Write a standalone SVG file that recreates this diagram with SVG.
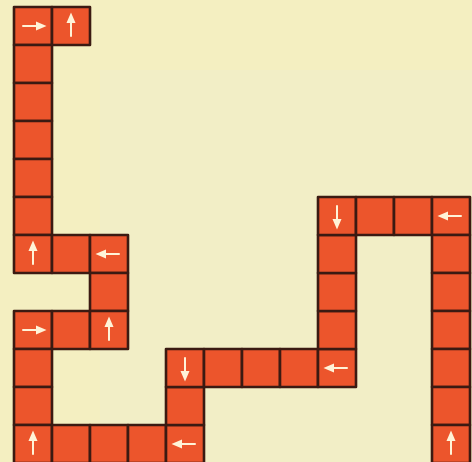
<svg xmlns="http://www.w3.org/2000/svg" xmlns:xlink="http://www.w3.org/1999/xlink" width="472" height="462" viewBox="0 0 472 462">
<style>
.cell{fill:#ec552c;stroke:#3b1a12;stroke-width:2.6;stroke-linejoin:round}
.arr{stroke:#fff3d8;stroke-width:2;fill:#fff3d8;stroke-linecap:round}
</style>
<defs>
<g id="up"><line class="arr" x1="0" y1="10" x2="0" y2="-5"/><path class="arr" stroke-width="1" d="M-3,-4 L3,-4 L0,-11 Z"/></g>
</defs>
<rect width="472" height="462" fill="#f4efc1"/>
<rect x="100" y="70" width="372" height="392" fill="#efeecd" opacity="0.4"/>
<g id="board">
<g id="c0-0"><rect class="cell" x="14" y="7" width="38" height="38"/><use href="#up" transform="translate(33,26) rotate(90)"/></g>
<g id="c1-0"><rect class="cell" x="52" y="7" width="38" height="38"/><use href="#up" transform="translate(71,26)"/></g>
<g id="c0-1"><rect class="cell" x="14" y="45" width="38" height="38"/></g>
<g id="c0-2"><rect class="cell" x="14" y="83" width="38" height="38"/></g>
<g id="c0-3"><rect class="cell" x="14" y="121" width="38" height="38"/></g>
<g id="c0-4"><rect class="cell" x="14" y="159" width="38" height="38"/></g>
<g id="c0-5"><rect class="cell" x="14" y="197" width="38" height="38"/></g>
<g id="c0-6"><rect class="cell" x="14" y="235" width="38" height="38"/><use href="#up" transform="translate(33,254)"/></g>
<g id="c1-6"><rect class="cell" x="52" y="235" width="38" height="38"/></g>
<g id="c2-6"><rect class="cell" x="90" y="235" width="38" height="38"/><use href="#up" transform="translate(109,254) rotate(-90)"/></g>
<g id="c2-7"><rect class="cell" x="90" y="273" width="38" height="38"/></g>
<g id="c0-8"><rect class="cell" x="14" y="311" width="38" height="38"/><use href="#up" transform="translate(33,330) rotate(90)"/></g>
<g id="c1-8"><rect class="cell" x="52" y="311" width="38" height="38"/></g>
<g id="c2-8"><rect class="cell" x="90" y="311" width="38" height="38"/><use href="#up" transform="translate(109,330)"/></g>
<g id="c0-9"><rect class="cell" x="14" y="349" width="38" height="38"/></g>
<g id="c0-10"><rect class="cell" x="14" y="387" width="38" height="38"/></g>
<g id="c0-11"><rect class="cell" x="14" y="425" width="38" height="38"/><use href="#up" transform="translate(33,444)"/></g>
<g id="c1-11"><rect class="cell" x="52" y="425" width="38" height="38"/></g>
<g id="c2-11"><rect class="cell" x="90" y="425" width="38" height="38"/></g>
<g id="c3-11"><rect class="cell" x="128" y="425" width="38" height="38"/></g>
<g id="c4-11"><rect class="cell" x="166" y="425" width="38" height="38"/><use href="#up" transform="translate(185,444) rotate(-90)"/></g>
<g id="c4-10"><rect class="cell" x="166" y="387" width="38" height="38"/></g>
<g id="c4-9"><rect class="cell" x="166" y="349" width="38" height="38"/><use href="#up" transform="translate(185,368) rotate(180)"/></g>
<g id="c5-9"><rect class="cell" x="204" y="349" width="38" height="38"/></g>
<g id="c6-9"><rect class="cell" x="242" y="349" width="38" height="38"/></g>
<g id="c7-9"><rect class="cell" x="280" y="349" width="38" height="38"/></g>
<g id="c8-9"><rect class="cell" x="318" y="349" width="38" height="38"/><use href="#up" transform="translate(337,368) rotate(-90)"/></g>
<g id="c8-8"><rect class="cell" x="318" y="311" width="38" height="38"/></g>
<g id="c8-7"><rect class="cell" x="318" y="273" width="38" height="38"/></g>
<g id="c8-6"><rect class="cell" x="318" y="235" width="38" height="38"/></g>
<g id="c8-5"><rect class="cell" x="318" y="197" width="38" height="38"/><use href="#up" transform="translate(337,216) rotate(180)"/></g>
<g id="c9-5"><rect class="cell" x="356" y="197" width="38" height="38"/></g>
<g id="c10-5"><rect class="cell" x="394" y="197" width="38" height="38"/></g>
<g id="c11-5"><rect class="cell" x="432" y="197" width="38" height="38"/><use href="#up" transform="translate(451,216) rotate(-90)"/></g>
<g id="c11-6"><rect class="cell" x="432" y="235" width="38" height="38"/></g>
<g id="c11-7"><rect class="cell" x="432" y="273" width="38" height="38"/></g>
<g id="c11-8"><rect class="cell" x="432" y="311" width="38" height="38"/></g>
<g id="c11-9"><rect class="cell" x="432" y="349" width="38" height="38"/></g>
<g id="c11-10"><rect class="cell" x="432" y="387" width="38" height="38"/></g>
<g id="c11-11"><rect class="cell" x="432" y="425" width="38" height="38"/><use href="#up" transform="translate(451,444)"/></g>
</g>
<g id="connectors"/>
</svg>
